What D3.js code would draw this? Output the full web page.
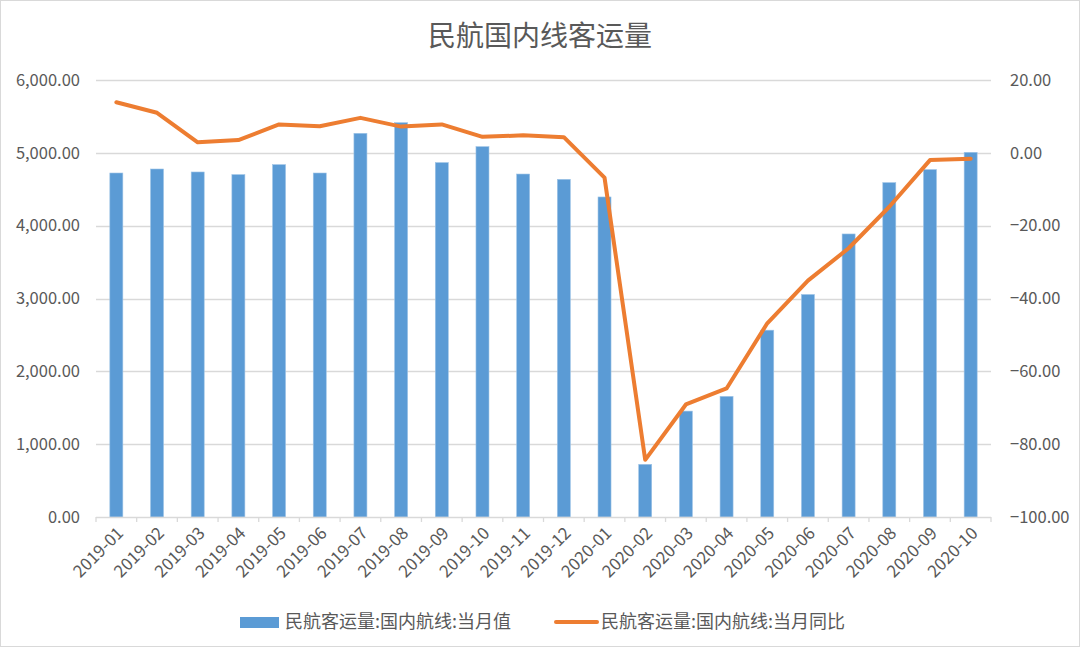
<!DOCTYPE html>
<html><head><meta charset="utf-8">
<script src="https://cdn.jsdelivr.net/npm/d3@7"></script>
<style>
body{margin:0;background:#fff;}
svg{display:block;}
text{font-family:"Noto Sans CJK SC","Noto Sans",sans-serif;fill:#595959;}
</style></head><body>
<svg id="c" width="1080" height="648"></svg>
<script>
const categories = ["2019-01","2019-02","2019-03","2019-04","2019-05","2019-06","2019-07","2019-08","2019-09","2019-10","2019-11","2019-12","2020-01","2020-02","2020-03","2020-04","2020-05","2020-06","2020-07","2020-08","2020-09","2020-10"];
const monthlyValue = [4723,4778,4737,4701,4838,4723,5268,5414,4866,5085,4709,4636,4394,723,1454,1656,2565,3055,3886,4591,4770,5007];
const yoyChange = [13.9,11.0,2.9,3.5,7.8,7.3,9.6,7.2,7.8,4.4,4.8,4.3,-6.8,-84.3,-69.1,-64.7,-46.8,-35.1,-26.2,-14.8,-2.0,-1.6];
const leftTicks = [0,1000,2000,3000,4000,5000,6000];
const rightTicks = [-100,-80,-60,-40,-20,0,20];
const title = "民航国内线客运量";
const seriesNames = ["民航客运量:国内航线:当月值","民航客运量:国内航线:当月同比"];

const svg = d3.select("#c");
const W=1080,H=648;
const m={left:96,right:1080-991,top:80,bottom:648-517};
const x = d3.scaleBand().domain(categories).range([m.left,991]).paddingInner(0).paddingOuter(0);
const yL = d3.scaleLinear().domain([0,6000]).range([517,80]);
const yR = d3.scaleLinear().domain([-100,20]).range([517,80]);

svg.append("rect").attr("x",0.5).attr("y",0.5).attr("width",W-1).attr("height",H-2)
  .attr("fill","#fff").attr("stroke","#d9d9d9");

// gridlines
svg.append("g").selectAll("line").data(leftTicks.filter(d=>d>0)).join("line")
  .attr("x1",m.left).attr("x2",991).attr("y1",d=>Math.round(yL(d))+0.5).attr("y2",d=>Math.round(yL(d))+0.5)
  .attr("stroke","#d9d9d9").attr("stroke-width",1.3);

// left axis labels
svg.append("g").selectAll("text").data(leftTicks).join("text")
  .attr("x",80).attr("y",d=>yL(d)).attr("dy","0.35em").attr("text-anchor","end")
  .style("font-size","16.5px").text(d=>d3.format(",.2f")(d));
// right axis labels
svg.append("g").selectAll("text").data(rightTicks).join("text")
  .attr("x",1010).attr("y",d=>yR(d)).attr("dy","0.35em").attr("text-anchor","start")
  .style("font-size","16.5px").text(d=>d3.format(".2f")(d));

// bars
const bw=13;
svg.append("g").selectAll("rect").data(categories).join("rect")
  .attr("x",(d)=>x(d)+x.bandwidth()/2-bw/2).attr("width",bw)
  .attr("y",(d,i)=>yL(monthlyValue[i])).attr("height",(d,i)=>yL(0)-yL(monthlyValue[i]))
  .attr("fill","#5B9BD5").attr("stroke","#9dc3e6").attr("stroke-width",0.6);

// x axis
const xa = svg.append("g");
xa.append("line").attr("x1",m.left).attr("x2",991).attr("y1",517.5).attr("y2",517.5).attr("stroke","#d9d9d9").attr("stroke-width",1.3);
const bounds = categories.map(d=>x(d)).concat([991]);
xa.selectAll("line.t").data(bounds).join("line").attr("class","t")
  .attr("x1",d=>d).attr("x2",d=>d).attr("y1",517).attr("y2",522).attr("stroke","#d9d9d9").attr("stroke-width",1.3);
xa.selectAll("text").data(categories).join("text")
  .attr("transform",d=>`translate(${x(d)+x.bandwidth()/2+4},${530}) rotate(-45)`)
  .attr("text-anchor","end").attr("dy","0.35em").style("font-size","17px").text(d=>d);

// line
const line = d3.line().x((d,i)=>x(categories[i])+x.bandwidth()/2).y(d=>yR(d));
svg.append("path").datum(yoyChange).attr("d",line).attr("fill","none")
  .attr("stroke","#ED7D31").attr("stroke-width",4).attr("stroke-linejoin","round").attr("stroke-linecap","round");

// title
svg.append("text").attr("x",540).attr("y",36).attr("dy","0.35em").attr("text-anchor","middle")
  .style("font-size","28px").text(title);

// legend
const lg = svg.append("g");
lg.append("rect").attr("x",240).attr("y",617).attr("width",39).attr("height",11).attr("fill","#5B9BD5");
lg.append("text").attr("x",285).attr("y",622).attr("dy","0.35em").style("font-size","18px").text(seriesNames[0]);
lg.append("line").attr("x1",556).attr("x2",597).attr("y1",622).attr("y2",622).attr("stroke","#ED7D31").attr("stroke-width",4).attr("stroke-linecap","round");
lg.append("text").attr("x",601).attr("y",622).attr("dy","0.35em").style("font-size","18px").text(seriesNames[1]);
</script></body></html>
